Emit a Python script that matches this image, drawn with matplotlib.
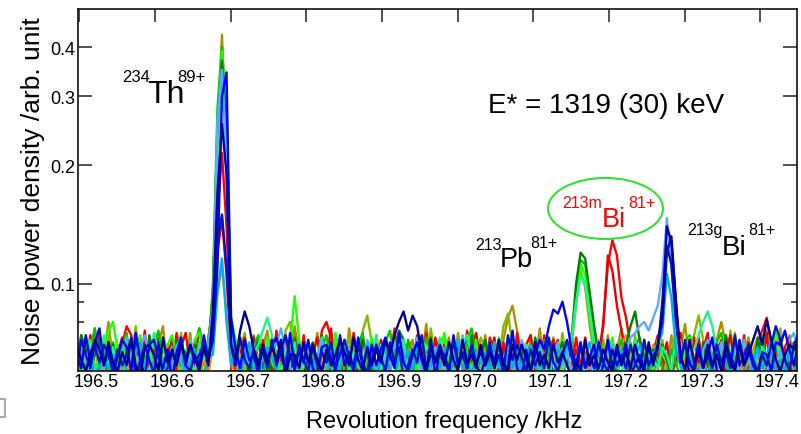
import numpy as np
import matplotlib
matplotlib.use("Agg")
import matplotlib.pyplot as plt
from matplotlib.patches import Ellipse, Rectangle
from matplotlib.ticker import FixedLocator, FixedFormatter, NullFormatter

plt.rcParams['font.family'] = ['Liberation Sans', 'DejaVu Sans']

# frequency bins (kHz)
freq_start = 196.474
freq_step = 0.006
n_bins = 160

# noise power density per spectrum, in units of 1e-3 arb. unit
olive = [62, 74, 58, 69, 77, 60, 66, 80, 63, 57,
         71, 65, 59, 76, 68, 56, 73, 62, 70, 78,
         61, 67, 57, 72, 64, 75, 59, 68, 62, 70,
         95, 250, 430, 220, 78, 63, 71, 58, 67, 74,
         60, 69, 76, 62, 57, 72, 65, 59, 78, 66,
         58, 70, 63, 75, 61, 67, 56, 73, 69, 60,
         77, 64, 58, 71, 66, 60, 74, 62, 57, 69,
         63, 76, 59, 68, 72, 57, 65, 79, 61, 70,
         58, 66, 73, 60, 75, 63, 57, 71, 67, 62,
         74, 59, 69, 64, 72, 82, 88, 76, 65, 58,
         70, 62, 77, 60, 66, 73, 58, 68, 63, 75,
         61, 70, 64, 57, 72, 66, 59, 74, 62, 68,
         77, 60, 65, 71, 58, 69, 63, 56, 73, 66,
         60, 74, 62, 68, 79, 64, 57, 70, 61, 72,
         65, 72, 80, 70, 62, 75, 58, 67, 73, 60,
         69, 63, 76, 59, 71, 66, 58, 74, 62, 68]
yellowgreen = [66, 59, 72, 63, 77, 58, 68, 74, 61, 70,
               57, 69, 64, 78, 60, 71, 65, 58, 73, 62,
               70, 61, 67, 75, 59, 72, 63, 69, 57, 74,
               85, 200, 380, 240, 72, 60, 68, 75, 62, 58,
               71, 64, 59, 73, 67, 60, 76, 80, 69, 62,
               57, 70, 65, 61, 74, 58, 68, 72, 60, 66,
               73, 59, 64, 76, 83, 71, 62, 67, 57, 70,
               63, 75, 60, 69, 58, 72, 66, 61, 77, 64,
               59, 71, 67, 57, 74, 62, 70, 60, 65, 73,
               68, 58, 72, 63, 78, 84, 70, 61, 67, 59,
               74, 62, 69, 58, 71, 65, 60, 75, 63, 70,
               92, 108, 98, 78, 66, 59, 72, 62, 68, 57,
               71, 64, 60, 74, 58, 69, 63, 67, 61, 72,
               60, 68, 75, 62, 57, 70, 74, 83, 72, 64,
               58, 71, 66, 60, 76, 63, 69, 57, 72, 65,
               61, 74, 59, 68, 63, 77, 60, 66, 71, 58]
red = [64, 58, 72, 61, 67, 75, 60, 69, 57, 66,
       70, 78, 74, 63, 59, 71, 65, 58, 73, 62,
       68, 60, 75, 64, 57, 70, 62, 77, 66, 59,
       80, 150, 215, 140, 70, 58, 66, 73, 61, 69,
       57, 72, 64, 60, 76, 63, 58, 70, 67, 61,
       74, 59, 68, 62, 76, 80, 73, 65, 58, 71,
       63, 69, 57, 74, 61, 66, 72, 59, 68, 64,
       77, 60, 65, 71, 58, 67, 62, 75, 60, 69,
       72, 64, 58, 70, 66, 61, 76, 63, 57, 68,
       61, 73, 67, 59, 71, 64, 58, 75, 62, 66,
       70, 58, 63, 74, 60, 68, 72, 57, 65, 61,
       73, 62, 67, 59, 71, 64, 80, 112, 129, 118,
       92, 82, 70, 64, 58, 72, 61, 67, 74, 60,
       66, 59, 71, 63, 69, 57, 73, 62, 68, 75,
       60, 67, 72, 58, 64, 70, 61, 74, 59, 66,
       71, 76, 82, 70, 63, 58, 69, 73, 61, 67]
red2 = [59, 67, 62, 74, 57, 69, 63, 71, 60, 66,
        73, 58, 65, 70, 61, 76, 59, 68, 64, 57,
        66, 72, 60, 69, 75, 62, 58, 71, 63, 67,
        72, 120, 147, 105, 66, 71, 60, 64, 58, 73,
        62, 68, 57, 72, 65, 59, 74, 61, 69, 63,
        70, 58, 66, 73, 60, 64, 77, 62, 57, 68,
        61, 75, 63, 58, 70, 67, 59, 72, 64, 60,
        68, 57, 71, 65, 62, 74, 60, 66, 58, 73,
        64, 70, 59, 67, 61, 72, 57, 69, 75, 62,
        58, 66, 73, 60, 68, 63, 71, 59, 65, 70,
        74, 61, 57, 69, 64, 72, 58, 67, 62, 60,
        68, 59, 73, 63, 70, 66, 78, 118, 108, 88,
        76, 68, 61, 72, 58, 65, 70, 60, 67, 63,
        71, 58, 64, 75, 61, 69, 57, 73, 62, 66,
        59, 70, 63, 67, 74, 60, 66, 58, 71, 64,
        68, 61, 75, 59, 66, 72, 60, 64, 57, 69]
orange = [57, 63, 60, 68, 58, 65, 61, 56, 66, 60,
          62, 58, 67, 60, 57, 64, 70, 59, 63, 57,
          65, 60, 58, 66, 62, 57, 69, 61, 64, 59,
          70, 95, 110, 85, 63, 58, 66, 60, 57, 64,
          61, 57, 65, 68, 59, 63, 58, 67, 60, 62,
          58, 66, 61, 57, 64, 70, 60, 59, 65, 58,
          63, 59, 68, 62, 57, 65, 61, 58, 66, 60,
          57, 64, 60, 69, 62, 58, 63, 67, 59, 61,
          66, 58, 62, 57, 65, 71, 60, 58, 64, 62,
          59, 67, 61, 58, 63, 60, 66, 57, 62, 68,
          60, 58, 64, 61, 57, 66, 62, 59, 63, 58,
          65, 60, 57, 62, 68, 64, 59, 66, 72, 63,
          70, 74, 66, 60, 65, 58, 63, 70, 61, 57,
          64, 60, 68, 72, 62, 58, 66, 61, 57, 63,
          60, 65, 70, 62, 58, 67, 63, 59, 64, 68,
          73, 66, 60, 64, 70, 61, 58, 65, 60, 63]
green = [66, 60, 73, 64, 77, 61, 68, 58, 71, 63,
         69, 75, 62, 58, 72, 65, 59, 70, 76, 63,
         60, 68, 72, 61, 57, 67, 70, 77, 68, 64,
         100, 280, 400, 260, 80, 66, 58, 71, 62, 69,
         74, 63, 59, 70, 66, 61, 57, 72, 68, 60,
         58, 71, 65, 59, 68, 74, 63, 60, 67, 72,
         62, 57, 70, 75, 61, 66, 59, 64, 71, 76,
         65, 60, 58, 72, 67, 62, 59, 73, 64, 57,
         70, 74, 63, 60, 69, 61, 72, 77, 66, 58,
         64, 59, 71, 68, 62, 60, 74, 58, 65, 70,
         61, 66, 58, 72, 63, 67, 60, 57, 70, 72,
         95, 115, 112, 92, 74, 64, 59, 70, 61, 67,
         72, 62, 57, 69, 73, 64, 60, 66, 71, 61,
         58, 68, 63, 57, 70, 74, 62, 60, 68, 65,
         59, 71, 75, 63, 58, 66, 60, 72, 64, 58,
         67, 73, 62, 60, 70, 64, 57, 68, 71, 62]
lime = [63, 58, 69, 72, 61, 66, 70, 76, 80, 68,
        62, 71, 65, 59, 74, 60, 67, 63, 57, 70,
        70, 74, 66, 60, 68, 62, 72, 75, 67, 63,
        90, 240, 390, 270, 82, 72, 64, 59, 70, 61,
        66, 60, 73, 64, 58, 69, 62, 70, 93, 72,
        63, 59, 68, 61, 72, 66, 58, 75, 62, 69,
        60, 71, 64, 58, 67, 73, 61, 59, 70, 65,
        72, 61, 57, 68, 64, 60, 74, 66, 59, 63,
        68, 75, 62, 58, 70, 63, 67, 60, 72, 57,
        64, 69, 60, 73, 58, 66, 71, 62, 59, 67,
        61, 57, 70, 64, 68, 59, 63, 72, 65, 70,
        88, 112, 105, 86, 70, 62, 58, 67, 73, 61,
        59, 66, 71, 62, 57, 69, 64, 60, 72, 66,
        63, 58, 70, 61, 67, 73, 60, 57, 66, 71,
        62, 59, 68, 74, 60, 64, 70, 63, 58, 66,
        71, 62, 57, 69, 75, 63, 60, 68, 64, 59]
darkgreen = [62, 74, 68, 60, 66, 72, 59, 64, 70, 61,
             57, 68, 63, 71, 60, 58, 74, 65, 61, 69,
             64, 59, 72, 62, 67, 57, 70, 63, 66, 71,
             92, 230, 370, 250, 76, 64, 60, 70, 58, 66,
             72, 61, 67, 58, 63, 70, 65, 60, 73, 62,
             58, 66, 71, 60, 74, 63, 59, 68, 64, 57,
             69, 62, 58, 72, 66, 60, 71, 64, 57, 67,
             68, 76, 72, 63, 59, 70, 61, 66, 73, 58,
             63, 69, 60, 57, 71, 65, 62, 74, 59, 66,
             72, 61, 67, 63, 58, 70, 64, 60, 68, 62,
             59, 73, 64, 61, 69, 58, 66, 71, 62, 72,
             100, 120, 116, 95, 78, 66, 60, 71, 63, 59,
             67, 70, 78, 85, 72, 64, 59, 68, 61, 70,
             64, 58, 72, 66, 60, 69, 63, 57, 71, 62,
             58, 67, 61, 74, 65, 60, 70, 62, 68, 59,
             73, 63, 59, 68, 71, 60, 66, 62, 57, 69]
springgreen = [60, 67, 63, 71, 58, 65, 74, 61, 69, 62,
               57, 66, 72, 60, 68, 63, 59, 75, 64, 70,
               61, 58, 69, 73, 62, 66, 59, 71, 64, 68,
               80, 190, 330, 210, 72, 64, 60, 69, 62, 66,
               70, 76, 82, 74, 65, 60, 68, 62, 71, 58,
               64, 70, 59, 66, 73, 61, 57, 68, 63, 72,
               60, 67, 62, 58, 71, 65, 74, 60, 66, 69,
               63, 58, 72, 61, 68, 64, 57, 70, 66, 60,
               73, 62, 67, 59, 64, 70, 74, 66, 60, 68,
               61, 71, 58, 65, 62, 73, 60, 67, 59, 70,
               64, 68, 61, 57, 72, 63, 69, 60, 65, 72,
               90, 105, 100, 84, 70, 63, 58, 67, 71, 62,
               59, 68, 64, 72, 60, 57, 70, 65, 61, 69,
               66, 60, 73, 62, 58, 67, 68, 74, 80, 85,
               78, 68, 62, 70, 64, 59, 71, 63, 67, 60,
               58, 69, 65, 61, 72, 63, 59, 70, 66, 62]
lightblue = [61, 68, 64, 58, 72, 66, 60, 70, 63, 57,
             67, 73, 62, 59, 69, 74, 64, 60, 71, 58,
             66, 61, 70, 63, 58, 72, 65, 60, 68, 71,
             88, 260, 350, 200, 74, 65, 59, 68, 62, 70,
             58, 66, 63, 71, 70, 77, 68, 61, 57, 67,
             62, 70, 58, 65, 72, 61, 66, 59, 73, 64,
             69, 60, 67, 63, 72, 66, 58, 70, 62, 59,
             71, 64, 68, 58, 62, 73, 60, 66, 57, 69,
             63, 59, 70, 68, 61, 74, 62, 58, 67, 65,
             60, 71, 66, 62, 58, 69, 64, 60, 72, 67,
             59, 63, 70, 61, 57, 66, 71, 62, 68, 60,
             64, 70, 62, 58, 67, 72, 61, 66, 70, 65,
             62, 68, 73, 75, 78, 80, 76, 82, 88, 105,
             147, 110, 80, 66, 60, 70, 62, 58, 68, 72,
             63, 59, 71, 65, 61, 69, 58, 72, 64, 60,
             67, 63, 58, 70, 62, 68, 61, 72, 75, 66]
skyblue = [58, 64, 61, 68, 57, 63, 70, 60, 66, 59,
           65, 60, 57, 67, 71, 61, 58, 64, 69, 62,
           59, 66, 62, 70, 58, 63, 68, 60, 57, 65,
           66, 95, 116, 80, 62, 68, 59, 64, 71, 60,
           63, 57, 69, 65, 60, 72, 58, 66, 61, 67,
           70, 62, 58, 66, 61, 57, 68, 64, 60, 71,
           64, 59, 67, 61, 70, 63, 58, 65, 69, 60,
           57, 66, 62, 68, 59, 71, 64, 58, 63, 67,
           61, 69, 58, 64, 72, 60, 66, 57, 68, 63,
           67, 60, 71, 62, 58, 65, 61, 69, 59, 64,
           70, 63, 58, 66, 61, 57, 68, 64, 70, 66,
           62, 58, 65, 71, 60, 67, 63, 59, 66, 61,
           68, 60, 57, 64, 70, 62, 58, 66, 70, 75,
           106, 92, 68, 62, 58, 66, 61, 69, 63, 59,
           65, 71, 60, 58, 67, 62, 70, 64, 57, 63,
           69, 61, 66, 72, 59, 64, 60, 68, 62, 58]
blue = [66, 61, 74, 63, 71, 77, 62, 68, 59, 65,
        72, 69, 60, 75, 64, 58, 70, 72, 65, 61,
        68, 57, 67, 73, 62, 70, 63, 66, 70, 64,
        72, 110, 300, 345, 82, 68, 61, 72, 64, 66,
        59, 70, 64, 70, 73, 66, 60, 75, 62, 67,
        63, 72, 61, 58, 69, 70, 65, 60, 74, 62,
        67, 61, 73, 63, 59, 70, 62, 68, 73, 66,
        61, 75, 63, 60, 66, 71, 64, 59, 72, 58,
        68, 66, 60, 74, 63, 67, 61, 70, 62, 59,
        64, 69, 63, 72, 58, 62, 76, 61, 58, 68,
        60, 66, 72, 68, 78, 86, 84, 90, 80, 68,
        62, 71, 61, 65, 70, 57, 62, 72, 61, 67,
        63, 70, 59, 62, 66, 61, 69, 63, 70, 80,
        120, 132, 90, 63, 72, 58, 62, 70, 61, 66,
        73, 60, 57, 68, 66, 61, 72, 63, 68, 62,
        59, 67, 66, 60, 71, 70, 76, 68, 62, 72]
mediumblue = [60, 72, 66, 61, 70, 63, 70, 66, 60, 68,
              62, 66, 73, 58, 64, 70, 64, 59, 71, 58,
              61, 67, 63, 72, 62, 60, 66, 62, 74, 64,
              78, 130, 150, 110, 70, 62, 73, 64, 61, 68,
              63, 67, 61, 72, 62, 68, 74, 66, 60, 70,
              64, 60, 69, 62, 67, 63, 71, 61, 66, 72,
              65, 60, 70, 62, 59, 64, 70, 65, 60, 71,
              63, 69, 57, 62, 68, 63, 74, 61, 66, 64,
              70, 64, 60, 72, 62, 66, 61, 69, 63, 67,
              62, 71, 61, 66, 60, 74, 64, 70, 65, 60,
              68, 62, 67, 61, 73, 63, 60, 66, 72, 65,
              60, 69, 62, 66, 61, 71, 63, 60, 68, 62,
              66, 61, 70, 63, 60, 72, 62, 66, 68, 90,
              125, 112, 80, 65, 70, 63, 60, 67, 62, 66,
              61, 70, 63, 67, 61, 74, 62, 66, 70, 64,
              60, 66, 62, 70, 78, 72, 64, 60, 70, 74]
navy = [70, 64, 60, 66, 72, 68, 62, 71, 63, 60,
        67, 62, 72, 62, 58, 69, 70, 66, 60, 73,
        63, 68, 62, 70, 64, 70, 65, 60, 69, 62,
        85, 170, 255, 190, 70, 64, 76, 85, 78, 68,
        62, 70, 63, 69, 64, 72, 58, 66, 66, 61,
        71, 63, 70, 64, 60, 68, 62, 66, 72, 67,
        62, 73, 64, 60, 69, 62, 68, 63, 72, 66,
        74, 80, 85, 76, 83, 78, 66, 60, 70, 63,
        68, 62, 71, 64, 60, 72, 63, 66, 61, 70,
        62, 67, 61, 72, 63, 60, 70, 64, 70, 65,
        60, 71, 62, 66, 61, 70, 63, 67, 62, 58,
        64, 60, 72, 62, 66, 61, 68, 63, 60, 70,
        62, 67, 61, 70, 63, 60, 71, 62, 70, 85,
        140, 128, 90, 66, 60, 72, 63, 67, 61, 70,
        62, 66, 60, 71, 63, 60, 70, 62, 66, 72,
        78, 70, 81, 72, 64, 60, 66, 70, 68, 72]

spectra = [olive, yellowgreen, red, red2, orange, green, lime, darkgreen,
           springgreen, lightblue, skyblue, blue, mediumblue, navy]
colors = ['#a89200', '#80bb00', '#ff0000', '#e80000', '#ff8a00', '#00c800',
          '#22ff00', '#007f00', '#22f08c', '#5aaaff', '#00b0e8', '#0000ff',
          '#0014c8', '#000096']

tick_labels = ['196.5', '196.6', '196.7', '196.8', '196.9',
               '197.0', '197.1', '197.2', '197.3', '197.4']
tick_label_pos = [196.5, 196.6, 196.7, 196.8, 196.9, 197.0, 197.1, 197.2, 197.3, 197.4]
tick_mark_shift = -0.0225  # tick marks sit left of their labels in the original

W, H = 801, 435
fig = plt.figure(figsize=(W / 100, H / 100), dpi=100)
ax = fig.add_axes([78 / W, 1 - 372 / H, (797 - 78) / W, (372 - 10) / H])

freq = freq_start + freq_step * np.arange(n_bins)
for vals, c in zip(spectra, colors):
    ax.plot(freq, np.array(vals) / 1000.0, color=c, lw=1.7)

ax.set_yscale('log')
ax.set_ylim(0.06, 0.5)
ax.set_xlim(196.4757, 197.426)

ax.yaxis.set_major_locator(FixedLocator([0.1, 0.2, 0.3, 0.4]))
ax.yaxis.set_major_formatter(FixedFormatter(['0.1', '0.2', '0.3', '0.4']))
ax.yaxis.set_minor_locator(FixedLocator([0.08, 0.09]))
ax.yaxis.set_minor_formatter(NullFormatter())

ax.set_xticks(tick_label_pos)
ax.set_xticklabels(tick_labels)
ax.xaxis.set_minor_locator(FixedLocator([p + tick_mark_shift for p in tick_label_pos]))
ax.xaxis.set_minor_formatter(NullFormatter())

ax.tick_params(axis='x', which='major', length=0, labelsize=13, pad=1.5)
ax.tick_params(axis='x', which='minor', direction='in', length=9.5, width=1.1,
               top=True, bottom=True, color='#222222')
ax.tick_params(axis='y', which='major', direction='in', length=10, width=1.1,
               left=True, right=True, labelsize=13, pad=2, color='#222222')
ax.tick_params(axis='y', which='minor', direction='in', length=4.5, width=1.1,
               left=True, right=True, color='#222222')
for s in ax.spines.values():
    s.set_linewidth(1.2)
    s.set_color('#111111')

ax.set_xlabel('Revolution frequency /kHz', fontsize=17)
ax.xaxis.set_label_coords((444 - 78) / 719, (372 - 428) / 362)
ax.xaxis.label.set_va('baseline')
ax.set_ylabel('Noise power density /arb. unit', fontsize=19)
ax.yaxis.set_label_coords((45 - 78) / 719, 0.5)


def ftext(x, y, s, size, color='black'):
    fig.text(x / W, 1 - y / H, s, fontsize=size, color=color,
             ha='left', va='baseline')


# isotope labels
ftext(122, 82, '234', 12)
ftext(147, 103, 'Th', 23)
ftext(177, 82, '89+', 12)

ftext(488, 113, 'E* = 1319 (30) keV', 20)

ftext(475, 250, '213', 11.5)
ftext(500, 267, 'Pb', 19.5)
ftext(530, 248, '81+', 11.5)

ftext(562, 208, '213m', 11.5, 'red')
ftext(602, 227, 'Bi', 19.5, 'red')
ftext(628, 208, '81+', 11.5, 'red')

ftext(687, 235, '213g', 11.5)
ftext(722, 255, 'Bi', 20)
ftext(748, 235, '81+', 11.5)

fig.add_artist(Ellipse((605.5 / W, 1 - 209.5 / H), 115 / W, 61 / H,
                       transform=fig.transFigure, fill=False,
                       edgecolor='#33e033', lw=1.5))
fig.add_artist(Rectangle((-2 / W, 1 - 418 / H), 7 / W, 18 / H,
                         transform=fig.transFigure, fill=False,
                         edgecolor='#aaaaaa', lw=1.5))

fig.savefig('out.png', dpi=100)
